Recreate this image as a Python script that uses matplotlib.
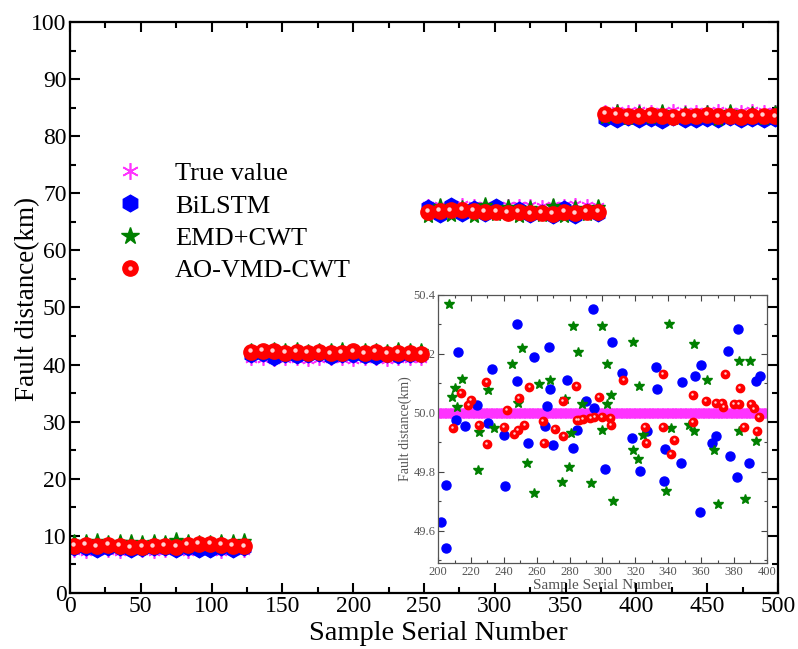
import numpy as np
import matplotlib
matplotlib.use("Agg")
import matplotlib.pyplot as plt
from matplotlib.lines import Line2D
from matplotlib.legend_handler import HandlerTuple
from matplotlib.transforms import offset_copy

plt.rcParams['font.family'] = ['Liberation Serif', 'DejaVu Serif']
plt.rcParams['mathtext.fontset'] = 'stix'

# ---- main plot data: four fault-distance groups, 16 samples each ----
group_starts = [0, 125, 250, 375]
main_samples = np.concatenate([np.arange(s + 3, s + 125, 8) for s in group_starts])

true_main = [7.3, 7.2, 7.4, 7.3, 7.2, 7.4, 7.3, 7.2, 7.3, 7.4, 7.2, 7.3, 7.3, 7.2, 7.4, 7.3,
             40.9, 41.0, 40.8, 40.9, 41.0, 40.8, 40.9, 41.0, 40.9, 40.8, 41.0, 40.9, 40.8, 41.0, 40.9, 40.9,
             67.9, 68.0, 67.8, 68.1, 67.9, 68.0, 67.8, 67.9, 68.0, 67.9, 67.8, 68.0, 67.9, 68.1, 67.9, 67.8,
             84.5, 84.6, 84.4, 84.6, 84.5, 84.4, 84.6, 84.5, 84.5, 84.4, 84.6, 84.5, 84.4, 84.6, 84.5, 84.5]
bilstm_main = [7.8, 7.9, 7.6, 7.9, 7.8, 7.5, 7.7, 7.8, 7.9, 7.6, 7.8, 7.6, 7.5, 7.8, 7.6, 7.8,
               41.6, 41.8, 41.2, 41.7, 41.5, 41.6, 41.8, 41.4, 41.6, 41.7, 41.5, 41.3, 41.6, 41.5, 41.7, 41.6,
               67.6, 66.2, 67.9, 66.4, 67.5, 66.3, 67.7, 66.5, 67.2, 66.2, 66.8, 66.0, 67.4, 66.1, 66.9, 66.3,
               83.0, 82.8, 83.2, 82.9, 83.0, 82.7, 83.1, 82.9, 82.8, 83.0, 82.9, 83.1, 82.8, 83.0, 82.9, 83.0]
emd_main = [9.0, 8.9, 9.1, 8.8, 9.0, 8.9, 8.7, 9.0, 8.8, 9.2, 8.9, 8.8, 8.7, 9.0, 8.9, 9.1,
            42.4, 42.2, 42.5, 42.3, 42.6, 42.2, 42.4, 42.3, 42.5, 42.2, 42.4, 42.3, 42.2, 42.5, 42.3, 42.4,
            66.0, 67.8, 66.2, 67.5, 66.1, 67.9, 66.3, 67.6, 66.0, 67.4, 66.2, 67.7, 66.1, 67.5, 66.3, 67.6,
            83.3, 84.2, 83.1, 84.0, 83.4, 84.3, 83.2, 83.9, 83.3, 84.1, 83.0, 84.2, 83.3, 83.9, 83.2, 84.0]
aovmd_main = [8.3, 8.4, 8.2, 8.4, 8.3, 8.0, 8.1, 8.2, 8.3, 8.1, 8.4, 8.6, 8.6, 8.4, 8.3, 8.2,
              42.2, 42.4, 42.3, 42.1, 42.2, 42.1, 42.2, 42.0, 42.1, 42.3, 42.0, 42.2, 41.9, 42.1, 42.0, 41.9,
              66.8, 66.9, 67.0, 67.1, 66.9, 66.7, 66.8, 66.6, 66.7, 66.5, 66.6, 66.4, 66.8, 66.5, 66.7, 66.8,
              83.9, 83.7, 83.6, 83.5, 83.7, 83.6, 83.4, 83.6, 83.5, 83.7, 83.5, 83.6, 83.4, 83.5, 83.6, 83.5]

# ---- inset data: samples 200-400, true distance 50 km ----
inset_samples = np.arange(200, 401)
true_inset = [50.0] * len(inset_samples)

bilstm_x = [201.8, 204.7, 204.7, 212.4, 210.9, 216.4, 223.7, 230.4, 233.0, 240.3,
            240.7, 248.0, 248.2, 254.5, 258.4, 264.8, 266.3, 267.5, 267.9, 270.1,
            278.4, 281.9, 284.5, 290.2, 294.0, 295.0, 301.7, 305.6, 311.7, 317.9,
            323.0, 326.8, 332.3, 333.3, 337.6, 338.0, 347.5, 348.5, 356.2, 359.5,
            359.9, 366.4, 369.2, 376.5, 377.7, 381.8, 382.4, 389.3, 393.3, 396.0]
bilstm_y = [49.63, 49.54, 49.755, 50.207, 49.977, 49.956, 50.027, 49.966, 50.148, 49.924,
            49.752, 50.303, 50.107, 49.898, 50.188, 49.956, 50.022, 50.224, 50.082, 49.889,
            50.110, 49.881, 49.941, 50.04, 50.351, 50.017, 49.808, 50.239, 50.136, 49.916,
            49.802, 49.938, 50.157, 50.081, 49.769, 49.877, 49.831, 50.105, 50.124, 49.664,
            50.163, 49.897, 49.922, 50.210, 49.853, 49.781, 50.285, 49.831, 50.108, 50.124]

emd_x = [206.7, 208.5, 210.1, 211.6, 214.6, 224.7, 224.5, 230.2, 233.8, 245.2,
         248.6, 251.1, 254.3, 258.6, 261.2, 268.1, 275.2, 277.4, 279.4, 281.1,
         282.2, 285.3, 287.3, 293.2, 299.5, 299.5, 302.7, 302.9, 305.4, 306.2,
         318.7, 318.7, 321.6, 322.0, 324.8, 338.9, 340.4, 341.8, 352.9, 355.4,
         355.6, 363.8, 367.8, 370.2, 383.0, 382.8, 386.4, 389.7, 393.5]
emd_y = [50.369, 50.055, 50.084, 50.019, 50.114, 49.934, 49.806, 50.076, 49.95, 50.167,
         50.034, 50.22, 49.831, 49.726, 50.097, 50.111, 49.765, 50.047, 49.815, 49.930,
         50.294, 50.205, 50.03, 49.762, 50.294, 49.941, 50.164, 50.03, 50.059, 49.701,
         50.241, 49.872, 49.844, 50.09, 49.926, 49.733, 50.301, 49.95, 49.958, 50.232,
         49.938, 50.111, 49.874, 49.691, 50.177, 49.938, 49.708, 50.177, 49.905]

aovmd_x = [208.9, 214.0, 218.4, 219.9, 224.7, 229.4, 229.8, 239.9, 241.9, 246.4,
           248.4, 249.0, 252.5, 255.5, 263.8, 264.4, 270.9, 276.2, 276.0, 284.1,
           284.3, 285.7, 288.1, 292.6, 295.0, 297.7, 299.5, 304.8, 305.2, 312.7,
           325.6, 326.6, 336.6, 336.8, 341.6, 343.7, 354.8, 354.8, 362.9, 369.0,
           372.6, 373.6, 374.7, 379.7, 383.0, 383.4, 385.8, 390.3, 391.9, 394.1, 395.1]
aovmd_y = [49.95, 50.068, 50.028, 50.044, 49.958, 50.106, 49.894, 49.953, 50.01, 49.927,
           49.943, 50.051, 49.958, 50.088, 49.973, 49.898, 49.944, 49.922, 50.04, 50.09,
           49.977, 49.977, 49.98, 49.982, 49.985, 50.053, 49.986, 49.984, 49.96, 50.113,
           49.953, 49.897, 50.132, 49.951, 49.861, 49.909, 49.969, 50.061, 50.039, 50.034,
           50.034, 50.02, 50.132, 50.03, 50.03, 50.085, 49.953, 50.031, 50.015, 49.938, 49.985]

labels = ["True value", "BiLSTM", "EMD+CWT", "AO-VMD-CWT"]
c_true, c_blue, c_green, c_red = "#ff33ff", "#0000ff", "#008000", "#ff0000"
asterisk = (6, 2, 0)

fig = plt.figure(figsize=(7.98, 6.49), dpi=100)
ax = fig.add_axes([0.0877, 0.0863, 0.8872, 0.8798])
ins = fig.add_axes([0.549, 0.1325, 0.412, 0.413])
# main axes on top so its markers hide the inset's 50.2 label like the original
ax.set_zorder(2)
ax.patch.set_visible(False)
ins.set_zorder(1)

# main plot
ax.plot(main_samples, true_main, ls="none", marker=asterisk, ms=9, mec=c_true, mew=1.2)
ax.plot(main_samples, bilstm_main, ls="none", marker="h", ms=10.5, color=c_blue, mec=c_blue)
ax.plot(main_samples, emd_main, ls="none", marker="*", ms=11, color=c_green, mec=c_green)
ax.plot(main_samples, aovmd_main, ls="none", marker="o", ms=11, color=c_red, mec=c_red)
hl = offset_copy(ax.transData, fig=fig, x=-1.0, y=1.2, units="points")
ax.plot(main_samples, aovmd_main, ls="none", marker="o", ms=3.2, color="#ffd0d0",
        mec="none", transform=hl)

ax.set_xlim(0, 500)
ax.set_ylim(0, 100)
ax.set_xticks(np.arange(0, 501, 50))
ax.set_xticks(np.arange(25, 500, 50), minor=True)
ax.set_yticks(np.arange(0, 101, 10))
ax.set_yticks(np.arange(5, 100, 10), minor=True)
ax.tick_params(which="both", direction="in", top=True, right=True, width=1.5,
               labelsize=17, pad=2.5)
ax.tick_params(which="major", length=7)
ax.tick_params(which="minor", length=4)
for s in ax.spines.values():
    s.set_linewidth(1.6)
ax.set_xlabel("Sample Serial Number", fontsize=20.5)
ax.set_ylabel("Fault distance(km)", fontsize=19.5)
ax.xaxis.set_label_coords(0.52, -0.049)
ax.yaxis.set_label_coords(-0.042, 0.515)

h_true = Line2D([], [], ls="none", marker=asterisk, ms=12, mec=c_true, mew=1.2)
h_blue = Line2D([], [], ls="none", marker="h", ms=12, color=c_blue)
h_green = Line2D([], [], ls="none", marker="*", ms=13, color=c_green)
h_red = Line2D([], [], ls="none", marker="o", ms=11, color=c_red)
h_red_hl = Line2D([], [], ls="none", marker="o", ms=3.2, color="#ffd0d0", mec="none")
ax.legend([h_true, h_blue, h_green, (h_red, h_red_hl)], labels,
          handler_map={tuple: HandlerTuple(ndivide=1)},
          loc="upper left", bbox_to_anchor=(0.04, 0.774), frameon=False,
          fontsize=19, handlelength=1.6, handletextpad=0.9, labelspacing=0.34,
          borderaxespad=0)

# inset
ins.plot(inset_samples, true_inset, ls="none", marker=asterisk, ms=7, mec=c_true, mew=1.5)
ins.plot(bilstm_x, bilstm_y, ls="none", marker="o", ms=6.5, color=c_blue, mec=c_blue)
ins.plot(emd_x, emd_y, ls="none", marker="*", ms=7, color=c_green, mec=c_green)
ins.plot(aovmd_x, aovmd_y, ls="none", marker="o", ms=6, color=c_red, mec=c_red)
hl2 = offset_copy(ins.transData, fig=fig, x=-0.5, y=0.6, units="points")
ins.plot(aovmd_x, aovmd_y, ls="none", marker="o", ms=1.8, color="#ffd0d0", mec="none",
         transform=hl2)

ins.set_xlim(200, 400)
ins.set_ylim(49.49, 50.4)
ins.set_xticks(np.arange(200, 401, 20))
ins.set_xticks(np.arange(210, 400, 20), minor=True)
ins.set_yticks([49.6, 49.8, 50.0, 50.2, 50.4])
ins.set_yticks([49.5, 49.7, 49.9, 50.1, 50.3], minor=True)
ins.yaxis.set_major_formatter(plt.FuncFormatter(lambda v, p: f"{v:.1f}"))
ins.tick_params(which="both", direction="in", top=True, right=True, width=0.8,
                labelsize=9, labelcolor="#555555", color="#444444", pad=2)
ins.tick_params(which="major", length=4)
ins.tick_params(which="minor", length=2.5)
for s in ins.spines.values():
    s.set_linewidth(0.9)
    s.set_color("#555555")
ins.set_xlabel("Sample Serial Number", fontsize=11, color="#555555", labelpad=1)
ins.set_ylabel("Fault distance(km)", fontsize=10, color="#555555", labelpad=1)

fig.savefig("out.png", dpi=100, facecolor="white")
